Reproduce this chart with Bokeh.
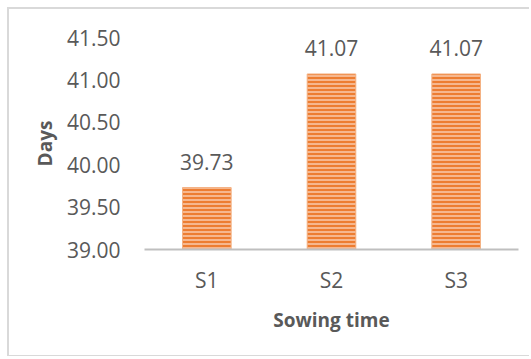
from bokeh.plotting import figure
from bokeh.models import Range1d, FactorRange, ColumnDataSource, LabelSet
from bokeh.core.properties import value
from bokeh.embed import file_html
from bokeh.resources import INLINE

categories = ["S1", "S2", "S3"]
values = [39.73, 41.07, 41.07]
labels = ["39.73", "41.07", "41.07"]
y_ticks = [39.0, 39.5, 40.0, 40.5, 41.0, 41.5]
y_tick_labels = ["39.00", "39.50", "40.00", "40.50", "41.00", "41.50"]

FONT = "Open Sans"
GREY = "#595959"

src = ColumnDataSource(dict(x=categories, top=values, lab=labels))

p = figure(width=522, height=349, output_backend="svg", toolbar_location=None,
           x_range=FactorRange(factors=categories, range_padding=0),
           y_range=Range1d(39.0, 41.5),
           min_border_left=135, min_border_right=13, min_border_top=28, min_border_bottom=109)
p.styles = {"margin-left": "7px", "margin-top": "7px",
            "border-left": "2px solid #D9D9D9", "border-top": "2px solid #D9D9D9",
            "border-bottom": "1px solid #D9D9D9"}
p.outline_line_color = None
p.background_fill_color = "white"
p.border_fill_color = "white"
p.grid.visible = False

p.vbar(x="x", top="top", bottom=39.0, width=0.39, source=src,
       fill_color="#ED7D31", line_color="#F4B183", line_width=1,
       hatch_pattern="horizontal_line", hatch_color="#FBE0CC",
       hatch_scale=4, hatch_weight=1.2)

lbl = LabelSet(x="x", y="top", text="lab", source=src, text_align="center",
               text_baseline="alphabetic", y_offset=18,
               text_font=value(FONT), text_font_size=value("21px"), text_color=value(GREY))
p.add_layout(lbl)

p.yaxis.ticker = y_ticks
p.yaxis.major_label_overrides = {t: l for t, l in zip(y_ticks, y_tick_labels)}
p.yaxis.axis_line_color = None
p.yaxis.major_tick_line_color = None
p.yaxis.minor_tick_line_color = None
p.yaxis.major_label_standoff = 18
p.yaxis.major_label_text_font = FONT
p.yaxis.major_label_text_font_size = "21px"
p.yaxis.major_label_text_color = GREY
p.yaxis.axis_label = "Days"
p.yaxis.axis_label_text_font = FONT
p.yaxis.axis_label_text_font_style = "bold"
p.yaxis.axis_label_text_font_size = "19px"
p.yaxis.axis_label_text_color = GREY
p.yaxis.axis_label_standoff = 6

p.xaxis.axis_line_color = "#BFBFBF"
p.xaxis.axis_line_width = 2
p.xaxis.major_tick_line_color = None
p.xaxis.minor_tick_line_color = None
p.xaxis.major_label_standoff = 10
p.xaxis.major_label_text_font = FONT
p.xaxis.major_label_text_font_size = "21px"
p.xaxis.major_label_text_color = GREY
p.xaxis.axis_label = "Sowing time"
p.xaxis.axis_label_text_font = FONT
p.xaxis.axis_label_text_font_style = "bold"
p.xaxis.axis_label_text_font_size = "19px"
p.xaxis.axis_label_text_color = GREY
p.xaxis.axis_label_standoff = 10

open("out.html", "w").write(file_html(p, INLINE))
